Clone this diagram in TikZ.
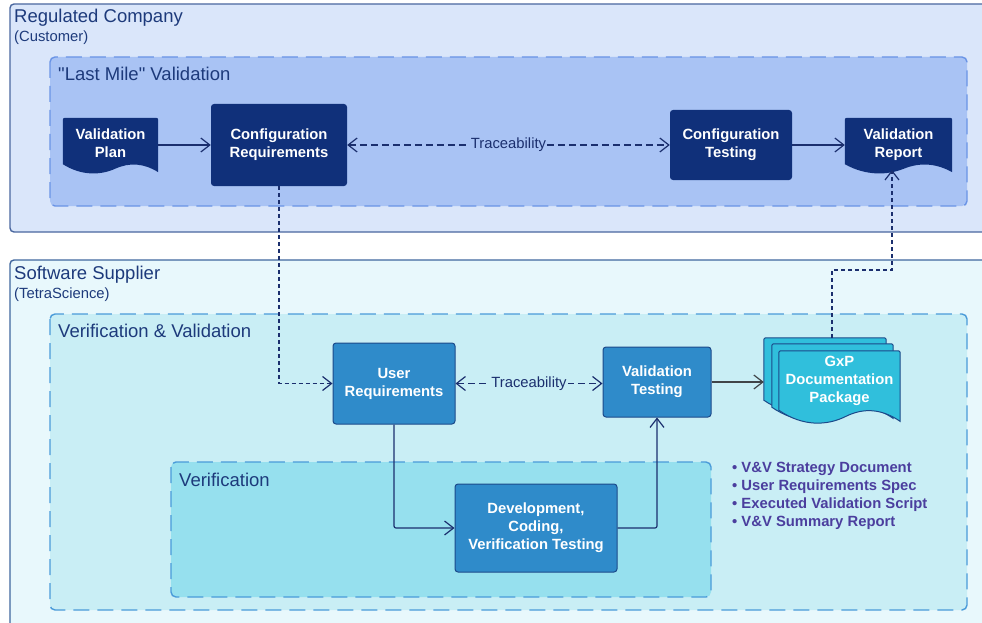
\documentclass[tikz,border=0pt]{standalone}
\usepackage{fontspec}
\setmainfont{Liberation Sans}
\usetikzlibrary{arrows.meta,calc,backgrounds}

\definecolor{custbg}{HTML}{DAE6FA}
\definecolor{custline}{HTML}{4A679F}
\definecolor{milebg}{HTML}{A9C3F4}
\definecolor{mileline}{HTML}{6A94E6}
\definecolor{suppbg}{HTML}{E8F8FC}
\definecolor{suppline}{HTML}{3F679E}
\definecolor{vvbg}{HTML}{C9EEF5}
\definecolor{vvline}{HTML}{4A9BD9}
\definecolor{verbg}{HTML}{96E0EE}
\definecolor{navy}{HTML}{10307A}
\definecolor{midblue}{HTML}{2F8BCA}
\definecolor{boxline}{HTML}{1C4A8A}
\definecolor{cyandoc}{HTML}{30BFDC}
\definecolor{ttl}{HTML}{1D3A7B}
\definecolor{connclr}{HTML}{1B2F6E}
\definecolor{arrowgray}{HTML}{404448}
\definecolor{listtxt}{HTML}{4B3E9E}

% document shape behind a node: #3 wave depth, #4 lift of the wave above the node's south
\newcommand{\docshape}[4]{%
  \coordinate (#1-wl) at ($(#1.south west)+(0,-#4)$);
  \coordinate (#1-wr) at ($(#1.south east)+(0,-#4)$);
  \path[#2] (#1-wl) [rounded corners=2pt] -- (#1.north west) -- (#1.north east) [sharp corners] -- ($(#1-wr)+(0,0.8*#3)$)
    .. controls ($(#1-wl)!0.85!(#1-wr)+(0,-0.1*#3)$) and ($(#1-wl)!0.7!(#1-wr)+(0,-0.2*#3)$) .. ($(#1-wl)!0.55!(#1-wr)+(0,0.45*#3)$)
    .. controls ($(#1-wl)!0.4!(#1-wr)+(0,1.1*#3)$) and ($(#1-wl)!0.2!(#1-wr)+(0,1.2*#3)$) .. (#1-wl) -- cycle;}

\begin{document}
\begin{tikzpicture}[x=1pt,y=-1pt]
        \tikzstyle{every node}=[inner sep=0pt, font=\fontsize{14.8}{18}\selectfont\bfseries, text=white]
        \tikzstyle{group}=[line width=1.4pt, rounded corners=4pt]
        \tikzstyle{lane}=[line width=1.4pt, rounded corners=5pt, dash pattern=on 16pt off 8pt]
        \tikzstyle{title}=[anchor=base west, text=ttl, font=\fontsize{18.5}{22}\selectfont]
        \tikzstyle{subtitle}=[anchor=base west, text=ttl, font=\fontsize{14.8}{18}\selectfont]
        \tikzstyle{darkbox}=[rectangle, rounded corners=3pt, fill=navy]
        \tikzstyle{bluebox}=[rectangle, rounded corners=3pt, fill=midblue, draw=boxline, line width=1pt]
        \tikzstyle{docnode}=[rectangle]
        \tikzstyle{flow}=[draw=connclr, line width=1.2pt, -{Straight Barb[length=9pt,width=14pt]}]
        \tikzstyle{trace}=[flow, dash pattern=on 7pt off 4pt, {Straight Barb[length=9pt,width=14pt]}-{Straight Barb[length=9pt,width=14pt]}]
        \tikzstyle{link}=[flow, dash pattern=on 4pt off 3pt]
        \tikzstyle{tracelabel}=[text=connclr, font=\fontsize{14.8}{18}\selectfont, inner sep=1pt]

        \useasboundingbox (0,0) rectangle (982,623);

        \begin{scope}[on background layer]
            \clip (0,0) rectangle (982,623);
            \draw[group, draw=custline, fill=custbg] (10,4) rectangle (1000,232);
            \draw[lane, draw=mileline, fill=milebg] (50,57) rectangle (967,206);
            \draw[group, draw=suppline, fill=suppbg] (10,260) rectangle (1000,640);
            \draw[lane, draw=vvline, fill=vvbg] (50,314) rectangle (967,610);
            \draw[lane, draw=vvline, fill=verbg] (171,462) rectangle (711,597);
        \end{scope}

        \node[title] (custttl) at (14,23) {Regulated Company};
        \node[subtitle] (custsub) at (14,42) {(Customer)};
        \node[title] (milettl) at (58,81) {\textquotedbl Last Mile\textquotedbl\ Validation};
        \node[title] (suppttl) at (14,279) {Software Supplier};
        \node[subtitle] (suppsub) at (14,298) {(TetraScience)};
        \node[title] (vvttl) at (58,337) {Verification \& Validation};
        \node[title] (verttl) at (179,486) {Verification};

        \node[docnode, minimum width=95, minimum height=54]  (vplan) at (110.5,145) {\begin{tabular}{c} Validation \\ Plan \end{tabular}};
        \node[darkbox, minimum width=136, minimum height=82] (crq)   at (279,145)   {\begin{tabular}{c} Configuration \\ Requirements \end{tabular}};
        \node[darkbox, minimum width=122, minimum height=70] (ctest) at (731,145)   {\begin{tabular}{c} Configuration \\ Testing \end{tabular}};
        \node[docnode, minimum width=107, minimum height=54] (vrep)  at (898.5,145) {\begin{tabular}{c} Validation \\ Report \end{tabular}};

        \node[bluebox, minimum width=122, minimum height=81] (ureq)  at (394,383.5) {\begin{tabular}{c} User \\ Requirements \end{tabular}};
        \node[bluebox, minimum width=108, minimum height=70] (vtest) at (657,382)   {\begin{tabular}{c} Validation \\ Testing \end{tabular}};
        \node[bluebox, minimum width=162, minimum height=88] (dev)   at (536,528)   {\begin{tabular}{c} Development, \\ Coding, \\ Verification Testing \end{tabular}};

        \node[docnode, minimum width=122, minimum height=62] (gxpb) at (825,369)     {};
        \node[docnode, minimum width=121, minimum height=63] (gxpm) at (832.5,375.5) {};
        \node[docnode, minimum width=121, minimum height=59] (gxp)  at (839.5,380.5) {\begin{tabular}{c} GxP \\ Documentation \\ Package \end{tabular}};

        \node[anchor=north west, align=left, text=listtxt] (docs) at (732,462) {\textbullet\ V\&V Strategy Document\\ \textbullet\ User Requirements Spec\\ \textbullet\ Executed Validation Script\\ \textbullet\ V\&V Summary Report};

        \begin{scope}[on background layer]
            \docshape{vplan}{fill=navy}{10}{8}
            \docshape{vrep}{fill=navy}{10}{8}
            \docshape{gxpb}{fill=cyandoc, draw=boxline, line width=1pt}{14}{0}
            \docshape{gxpm}{fill=cyandoc, draw=boxline, line width=1pt}{14}{0}
            \docshape{gxp}{fill=cyandoc, draw=boxline, line width=1pt}{14}{0}
        \end{scope}

        \coordinate (gxpup) at (832,270);
        \coordinate (vrepin) at (892,170);

        \draw[flow] (vplan.east |- crq.west) -- (crq.west);
        \draw[trace] (crq.east) -- node[tracelabel, fill=milebg] (trc1) {Traceability} (ctest.west);
        \draw[flow] (ctest.east) -- (vrep.west);
        \draw[link] (crq.south) |- (ureq.west);
        \draw[trace] (ureq.east) -- node[tracelabel, fill=vvbg] (trc2) {Traceability} (ureq.east -| vtest.west);
        \draw[flow, draw=arrowgray] (vtest.east) -- (vtest.east -| gxpb.west);
        \draw[flow, rounded corners=2pt] (ureq.south) |- (dev.west);
        \draw[flow, rounded corners=2pt] (dev.east) -| (vtest.south);
        \draw[link] (gxpup |- gxpb.north) -- (gxpup) -| (vrepin);
    \end{tikzpicture}
\end{document}
